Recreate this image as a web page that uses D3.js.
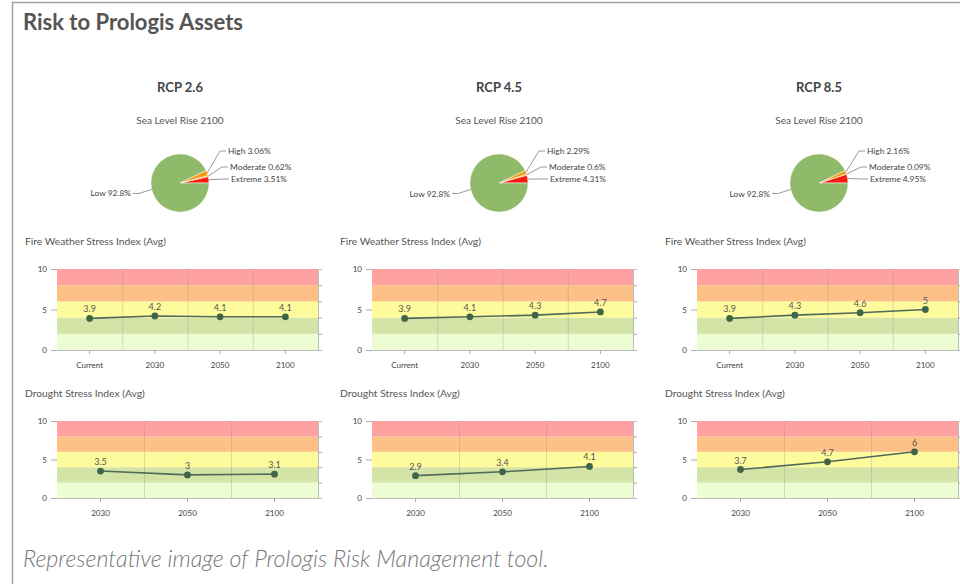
<!doctype html>
<html>
<head>
  <script src="https://d3js.org/d3.v7.min.js"></script>
  <style>
    body { margin: 0; background: #fff; }
    text { font-family: Lato, "Open Sans", sans-serif; }
  </style>
</head>
<body>
  <script>
    // data
    var scenarios = ["RCP 2.6", "RCP 4.5", "RCP 8.5"];

    // sea level rise 2100 - share of assets per risk class (%)
    var seaCategories = ["Extreme", "Moderate", "High", "Low"];
    var seaColors = ["#f71a10", "#f7a000", "#f79a10", "#8fba6a"];
    var sea26 = [3.51, 0.62, 3.06, 92.8];
    var sea45 = [4.31, 0.6, 2.29, 92.8];
    var sea85 = [4.95, 0.09, 2.16, 92.8];
    var seaLabels26 = ["3.51%", "0.62%", "3.06%", "92.8%"];
    var seaLabels45 = ["4.31%", "0.6%", "2.29%", "92.8%"];
    var seaLabels85 = ["4.95%", "0.09%", "2.16%", "92.8%"];

    // fire weather stress index (avg)
    var fireYears = ["Current", "2030", "2050", "2100"];
    var fire26 = [3.9, 4.2, 4.1, 4.1];
    var fire45 = [3.9, 4.1, 4.3, 4.7];
    var fire85 = [3.9, 4.3, 4.6, 5];

    // drought stress index (avg)
    var droughtYears = ["2030", "2050", "2100"];
    var drought26 = [3.5, 3, 3.1];
    var drought45 = [2.9, 3.4, 4.1];
    var drought85 = [3.7, 4.7, 6];

    // background risk bands on the index charts
    var bandEdges = [0, 2, 4, 6, 8, 10];
    var bandColors = ["#ecfdd2", "#d3e4a6", "#fdfb9c", "#fdc187", "#fda2a0"];
    var leftTicks = [0, 5, 10];
    var rightTicks = [2, 4, 6, 8];

    // layout
    var width = 960;
    var height = 584;
    var panelCenter = [180, 499, 819];
    var plotLeft = [57, 372, 697];
    var plotWidth = 261;

    var svg = d3.select("body")
                .append("svg")
                .attr("width", width)
                .attr("height", height);

    // frame round the picture
    svg.append("path")
       .attr("d", "M12.5," + height + "V2.5H" + width)
       .attr("fill", "none")
       .attr("stroke", "#a0a0a0")
       .attr("stroke-width", 1.5);

    svg.append("text")
       .attr("x", 23)
       .attr("y", 30)
       .attr("font-size", 22)
       .attr("font-weight", 700)
       .attr("fill", "#555")
       .text("Risk to Prologis Assets");

    svg.append("text")
       .attr("x", 23)
       .attr("y", 567)
       .attr("font-size", 23.3)
       .attr("font-style", "italic")
       .attr("font-weight", 300)
       .attr("fill", "#777")
       .text("Representative image of Prologis Risk Management tool.");

    var seaData = [sea26, sea45, sea85];
    var seaText = [seaLabels26, seaLabels45, seaLabels85];
    var fireData = [fire26, fire45, fire85];
    var droughtData = [drought26, drought45, drought85];

    scenarios.forEach(function(name, i) {
      var cx = panelCenter[i];

      svg.append("text")
         .attr("x", cx)
         .attr("y", 92)
         .attr("text-anchor", "middle")
         .attr("font-size", 13)
         .attr("font-weight", 700)
         .attr("fill", "#444")
         .text(name);

      svg.append("text")
         .attr("x", cx)
         .attr("y", 124)
         .attr("text-anchor", "middle")
         .attr("font-size", 10)
         .attr("fill", "#555")
         .text("Sea Level Rise 2100");

      drawPie(cx, 183, seaData[i], seaText[i]);

      drawIndex(plotLeft[i], 269, 81, "Fire Weather Stress Index (Avg)", fireYears, fireData[i]);
      drawIndex(plotLeft[i], 421, 77, "Drought Stress Index (Avg)", droughtYears, droughtData[i]);
    });

    function drawPie(cx, cy, values, labels) {
      var r = 29;
      // slices start at 3 o'clock and run anti-clockwise
      var pie = d3.pie()
                  .sort(null)
                  .startAngle(Math.PI / 2)
                  .endAngle(Math.PI / 2 - 2 * Math.PI);
      var arc = d3.arc().innerRadius(0).outerRadius(r);
      var arcs = pie(values);

      var g = svg.append("g").attr("transform", "translate(" + cx + "," + cy + ")");

      g.selectAll("path")
       .data(arcs)
       .enter()
         .append("path")
         .attr("d", arc)
         .attr("fill", function(d, i) { return seaColors[i]; })
         .attr("stroke", "#fff")
         .attr("stroke-width", 0.5);

      // small classes labelled in a stack on the right, Low on the left
      var rightRow = { 2: -32, 1: -16, 0: -4 };
      arcs.forEach(function(d, i) {
        var mid = (d.startAngle + d.endAngle) / 2;
        var px = Math.sin(mid) * r;
        var py = -Math.cos(mid) * r;
        var lx, ly, anchor, pts;
        if (i < 3) {
          ly = rightRow[i];
          lx = r + 19 + (i === 2 ? 0 : i === 1 ? 2 : 3);
          anchor = "start";
          pts = [[px, py], [lx - 8, ly], [lx - 2, ly]];
        } else {
          ly = py + 4;
          lx = -r - 20;
          anchor = "end";
          pts = [[px, py], [lx + 8, ly], [lx + 2, ly]];
        }
        g.append("path")
         .attr("d", d3.line()(pts))
         .attr("fill", "none")
         .attr("stroke", "#999")
         .attr("stroke-width", 1);
        g.append("text")
         .attr("x", lx)
         .attr("y", ly + 3)
         .attr("text-anchor", anchor)
         .attr("font-size", 8.4)
         .attr("fill", "#444")
         .text(seaCategories[i] + " " + labels[i]);
      });
    }

    function drawIndex(x0, y0, h, title, years, values) {
      var x = d3.scaleBand().domain(years).range([x0, x0 + plotWidth]);
      var y = d3.scaleLinear().domain([0, 10]).range([y0 + h, y0]);

      svg.append("text")
         .attr("x", x0 - 32)
         .attr("y", y0 - 24)
         .attr("font-size", 10.3)
         .attr("fill", "#555")
         .text(title);

      // coloured risk bands
      svg.append("g")
         .selectAll("rect")
         .data(bandColors)
         .enter()
           .append("rect")
           .attr("x", x0)
           .attr("width", plotWidth)
           .attr("y", function(d, i) { return y(bandEdges[i + 1]); })
           .attr("height", function(d, i) { return y(bandEdges[i]) - y(bandEdges[i + 1]); })
           .attr("fill", function(d) { return d; });

      // vertical grid between categories
      svg.append("g")
         .selectAll("line")
         .data(years.slice(1))
         .enter()
           .append("line")
           .attr("x1", function(d) { return x(d) + 0.5; })
           .attr("x2", function(d) { return x(d) + 0.5; })
           .attr("y1", y0)
           .attr("y2", y0 + h)
           .attr("stroke", "#999")
           .attr("stroke-opacity", 0.35);

      var left = svg.append("g")
                    .attr("transform", "translate(" + x0 + ",0)")
                    .call(d3.axisLeft(y).tickValues(leftTicks).tickSize(6).tickPadding(4));
      left.select(".domain").remove();

      var right = svg.append("g")
                     .attr("transform", "translate(" + (x0 + plotWidth) + ",0)")
                     .call(d3.axisRight(y).tickValues(rightTicks).tickSize(4).tickFormat(""));
      right.select(".domain").attr("stroke", "#bbb");

      var bottom = svg.append("g")
                      .attr("transform", "translate(0," + (y0 + h) + ")")
                      .call(d3.axisBottom(x).tickSize(4).tickPadding(8).tickSizeOuter(0));

      [left, right, bottom].forEach(function(a) {
        a.selectAll("line").attr("stroke", "#aaa");
        a.selectAll("text").attr("fill", "#444").attr("font-size", 8)
         .attr("font-family", "Lato, sans-serif");
      });
      bottom.select(".domain").attr("stroke", "#bbb");

      var cx = function(d, i) { return x(years[i]) + x.bandwidth() / 2; };

      svg.append("path")
         .datum(values)
         .attr("d", d3.line().x(cx).y(function(d) { return y(d); }))
         .attr("fill", "none")
         .attr("stroke", "#51695a")
         .attr("stroke-width", 1.6);

      svg.append("g")
         .selectAll("circle")
         .data(values)
         .enter()
           .append("circle")
           .attr("cx", cx)
           .attr("cy", function(d) { return y(d); })
           .attr("r", 3.4)
           .attr("fill", "#3f6447");

      svg.append("g")
         .selectAll("text")
         .data(values)
         .enter()
           .append("text")
           .attr("x", cx)
           .attr("y", function(d) { return y(d) - 6; })
           .attr("text-anchor", "middle")
           .attr("font-size", 9)
           .attr("fill", "#555")
           .text(function(d) { return d; });
    }
  </script>
</body>
</html>
